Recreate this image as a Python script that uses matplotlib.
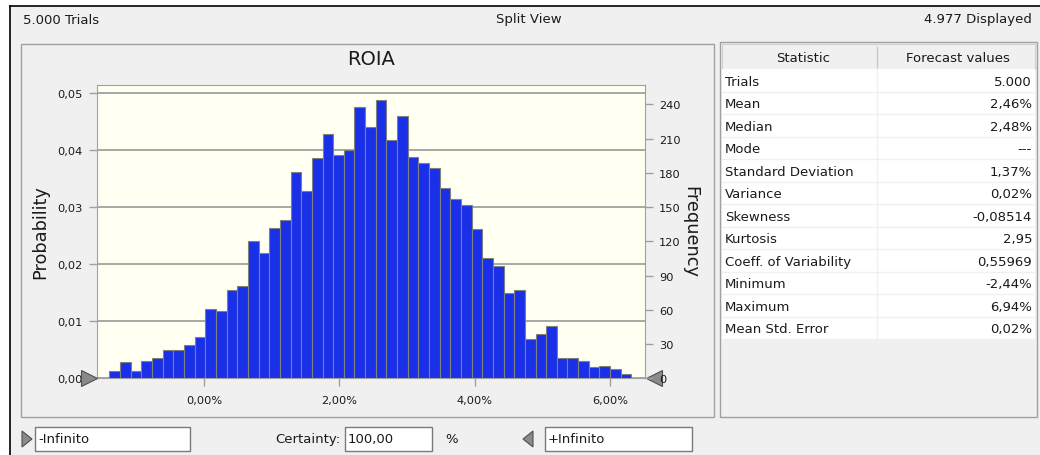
import matplotlib
matplotlib.use("Agg")
import matplotlib.pyplot as plt
from matplotlib.patches import Rectangle, Polygon
from matplotlib.lines import Line2D
import matplotlib.transforms as mtransforms
import numpy as np

plt.rcParams['font.family'] = ['DejaVu Sans']

# histogram data (frequency per bin), bins in percent
counts = [6, 14, 6, 15, 18, 25, 25, 29, 36, 61, 59, 77, 81, 120, 110, 132, 139,
          181, 164, 193, 214, 196, 200, 238, 220, 244, 209, 230, 194, 189, 184,
          167, 157, 152, 131, 105, 98, 75, 77, 34, 39, 46, 18, 18, 15, 10, 11, 8, 4]
bin_start = -1.397
bin_width = 0.1574
trials = 5000

stat_names = ["Trials", "Mean", "Median", "Mode", "Standard Deviation", "Variance",
              "Skewness", "Kurtosis", "Coeff. of Variability", "Minimum", "Maximum",
              "Mean Std. Error"]
stat_values = ["5.000", "2,46%", "2,48%", "---", "1,37%", "0,02%", "-0,08514",
               "2,95", "0,55969", "-2,44%", "6,94%", "0,02%"]

prob_ticks = [0, 0.01, 0.02, 0.03, 0.04, 0.05]
freq_ticks = [0, 30, 60, 90, 120, 150, 180, 210, 240]
x_ticks = [0, 2, 4, 6]

W, H = 1040, 456
fig = plt.figure(figsize=(W / 100, H / 100), dpi=100, facecolor='white')


def fx(x):
    return x / W


def fy(y):
    return 1 - y / H


def rect(x0, y0, x1, y1, fc, ec, lw=1.0, z=0):
    fig.add_artist(Rectangle((fx(x0), fy(y1)), fx(x1) - fx(x0), fy(y0) - fy(y1),
                             transform=fig.transFigure, facecolor=fc, edgecolor=ec,
                             linewidth=lw, zorder=z))


def hline(x0, x1, y, c, lw=1.0, z=1):
    fig.add_artist(Line2D([fx(x0), fx(x1)], [fy(y), fy(y)], transform=fig.transFigure,
                          color=c, linewidth=lw, zorder=z))


def vline(x, y0, y1, c, lw=1.0, z=1):
    fig.add_artist(Line2D([fx(x), fx(x)], [fy(y0), fy(y1)], transform=fig.transFigure,
                          color=c, linewidth=lw, zorder=z))


# window background
rect(10, 7, 1045, 460, '#F0F0F0', 'none', z=0)
hline(10, 1040, 7, 'black', 1.2)
vline(10, 7, 456, 'black', 1.2)

fs = 8.2     # tick labels
fs_ui = 9.5  # header, table, controls
tc = '#1A1A1A'
fig.text(fx(23), fy(20), "5.000 Trials", ha='left', va='center', fontsize=fs_ui, color=tc)
fig.text(fx(529), fy(20), "Split View", ha='center', va='center', fontsize=fs_ui, color=tc)
fig.text(fx(1032), fy(20), "4.977 Displayed", ha='right', va='center', fontsize=fs_ui, color=tc)

# chart panel frame
rect(20.5, 45, 714, 418, 'none', '#A0A0A0', 1.0, z=1)

# table panel
rect(720, 43, 1037, 418, '#F0F0F0', '#A0A0A0', 1.0, z=1)
rect(722, 45, 1035, 70, '#F0F0F0', '#D0D0D0', 0.8, z=2)
vline(877, 48, 68, '#C8C8C8', 1.0, z=3)
fig.text(fx(803), fy(58), "Statistic", ha='center', va='center', fontsize=fs_ui, color=tc, zorder=4)
fig.text(fx(958), fy(58), "Forecast values", ha='center', va='center', fontsize=fs_ui, color=tc, zorder=4)
row_h = 22.5
table_top = 70
rect(722, table_top, 1035, table_top + row_h * len(stat_names), 'white', 'none', z=2)
for i, (n, v) in enumerate(zip(stat_names, stat_values)):
    yc = table_top + row_h * (i + 0.5) + 1
    fig.text(fx(725), fy(yc), n, ha='left', va='center', fontsize=fs_ui, color=tc, zorder=4)
    fig.text(fx(1032), fy(yc), v, ha='right', va='center', fontsize=fs_ui, color=tc, zorder=4)
    hline(722, 1035, table_top + row_h * (i + 1), '#F0F0F0', 1.0, z=3)
vline(877, table_top, table_top + row_h * len(stat_names), '#F0F0F0', 1.0, z=3)

# histogram axes
ax = fig.add_axes([fx(96.7), fy(379.3), (645 - 96.7) / W, (379.3 - 85.7) / H])
ax.set_facecolor('#FFFFF2')
prob = np.array(counts) / trials
lefts = bin_start + bin_width * np.arange(len(counts))
ax.bar(lefts, prob, width=bin_width, align='edge', color='#1A30E8',
       edgecolor='#808080', linewidth=0.8, zorder=3)
ax.set_xlim(-1.586, 6.517)
ax.set_ylim(0, 0.05145)
ax.set_yticks(prob_ticks)
ax.set_yticklabels([f"{t:.2f}".replace('.', ',') for t in prob_ticks])
ax.set_xticks(x_ticks)
ax.set_xticklabels([f"{t:.2f}%".replace('.', ',') for t in x_ticks])
ax.grid(axis='y', color='#A0A0A0', linewidth=1.3, zorder=1)
for s in ax.spines.values():
    s.set_color('#A0A0A0')
ax.tick_params(axis='both', colors='#A0A0A0', labelcolor=tc, labelsize=fs,
               length=6, width=1)
ax.tick_params(axis='y', pad=4)
ax.tick_params(axis='x', pad=6)
ax.set_ylabel("Probability", fontsize=12.8, color=tc)
ax.yaxis.set_label_coords((49 - 96.7) / 548.3, 0.5)
ax.set_title("ROIA", fontsize=14, pad=15, color=tc)

ax2 = ax.twinx()
ax2.set_ylim(0, 0.05145 * trials)
ax2.set_yticks(freq_ticks)
ax2.tick_params(axis='y', colors='#A0A0A0', labelcolor=tc, labelsize=fs,
                length=6, width=1, pad=4)
for s in ax2.spines.values():
    s.set_visible(False)
ax2.set_ylabel("Frequency", fontsize=12.8, color=tc, rotation=-90, va='center')
ax2.yaxis.set_label_coords((690 - 96.7) / 548.3, 0.5)

# certainty grabbers
tl = mtransforms.offset_copy(ax.transAxes, fig=fig, x=-8, y=0, units='dots')
ax.plot([0], [0], marker='>', markersize=12, color='#8A8A8A', markeredgecolor='#505050',
        markeredgewidth=0.8, transform=tl, clip_on=False, zorder=6)
tr = mtransforms.offset_copy(ax.transAxes, fig=fig, x=9, y=0, units='dots')
ax.plot([1], [0], marker='<', markersize=12, color='#8A8A8A', markeredgecolor='#505050',
        markeredgewidth=0.8, transform=tr, clip_on=False, zorder=6)

# bottom controls
def tri(xc, yc, right=True):
    if right:
        pts = [(fx(xc - 5), fy(yc - 8)), (fx(xc + 5), fy(yc)), (fx(xc - 5), fy(yc + 8))]
    else:
        pts = [(fx(xc + 5), fy(yc - 8)), (fx(xc - 5), fy(yc)), (fx(xc + 5), fy(yc + 8))]
    fig.add_artist(Polygon(pts, closed=True, transform=fig.transFigure,
                           facecolor='#8A8A8A', edgecolor='#505050', linewidth=0.8, zorder=3))


def textbox(x0, x1, txt):
    rect(x0, 428, x1, 452, 'white', '#7A7A7A', 1.0, z=2)
    fig.text(fx(x0 + 3), fy(440), txt, ha='left', va='center', fontsize=fs_ui, color=tc, zorder=4)


tri(27, 440, True)
textbox(35, 190, "-Infinito")
fig.text(fx(340), fy(440), "Certainty:", ha='right', va='center', fontsize=fs_ui, color=tc)
textbox(345, 432, "100,00")
fig.text(fx(445), fy(440), "%", ha='left', va='center', fontsize=fs_ui, color=tc)
tri(528, 440, False)
textbox(545, 692, "+Infinito")

fig.savefig("out.png", dpi=100, facecolor=fig.get_facecolor())
